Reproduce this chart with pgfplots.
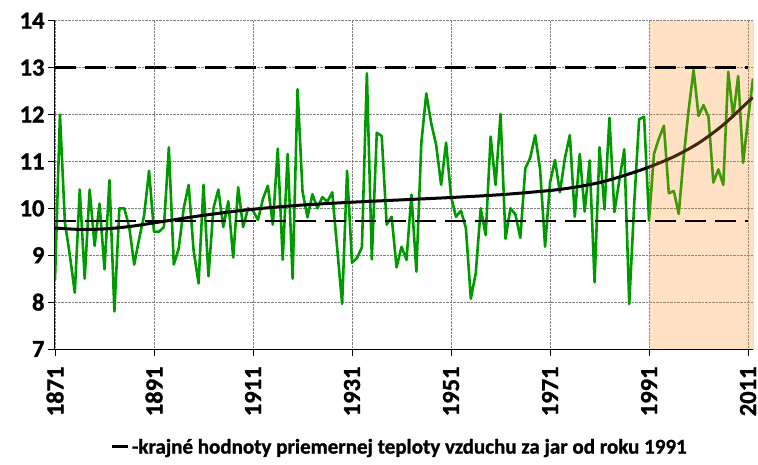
\documentclass[border=0pt]{standalone}
\usepackage{pgfplots}
\pgfplotsset{compat=1.18}
\usepackage{fontspec}
\setmainfont{Carlito}[BoldFont={Carlito Bold}, BoldFeatures={FakeBold=1.2}]
\definecolor{linegreen}{RGB}{0,153,0}
\definecolor{shadeorange}{RGB}{250,148,35}

\pgfplotstableread{
year temp
1871 8.47
1872 12.0
1873 9.7
1874 9.0
1875 8.2
1876 10.4
1877 8.5
1878 10.4
1879 9.2
1880 10.1
1881 8.7
1882 10.6
1883 7.8
1884 10.0
1885 10.0
1886 9.6
1887 8.8
1888 9.35
1889 9.85
1890 10.8
1891 9.5
1892 9.5
1893 9.6
1894 11.3
1895 8.8
1896 9.15
1897 10.0
1898 10.5
1899 9.1
1900 8.4
1901 10.5
1902 8.55
1903 10.0
1904 10.4
1905 9.6
1906 10.15
1907 8.95
1908 10.45
1909 9.6
1910 10.0
1911 9.95
1912 9.75
1913 10.2
1914 10.48
1915 9.65
1916 11.27
1917 8.9
1918 11.16
1919 8.5
1920 12.54
1921 10.36
1922 9.81
1923 10.3
1924 10.0
1925 10.24
1926 10.14
1927 10.34
1928 9.15
1929 7.96
1930 10.8
1931 8.84
1932 8.94
1933 9.17
1934 12.88
1935 8.91
1936 11.61
1937 11.54
1938 9.65
1939 9.82
1940 8.74
1941 9.18
1942 8.9
1943 10.29
1944 8.65
1945 11.39
1946 12.45
1947 11.81
1948 11.35
1949 10.5
1950 11.4
1951 10.25
1952 9.82
1953 9.95
1954 9.58
1955 8.07
1956 8.62
1957 10.0
1958 9.43
1959 11.53
1960 10.5
1961 12.01
1962 9.35
1963 10.0
1964 9.87
1965 9.37
1966 10.85
1967 11.08
1968 11.56
1969 10.82
1970 9.18
1971 10.55
1972 11.03
1973 10.34
1974 11.07
1975 11.56
1976 9.82
1977 11.16
1978 9.93
1979 11.02
1980 8.42
1981 11.3
1982 9.98
1983 11.93
1984 9.92
1985 10.6
1986 11.26
1987 7.96
1988 10.09
1989 11.9
1990 11.95
1991 9.74
1992 11.16
1993 11.49
1994 11.76
1995 10.32
1996 10.37
1997 9.88
1998 11.1
1999 12.1
2000 12.95
2001 11.97
2002 12.2
2003 11.95
2004 10.55
2005 10.83
2006 10.5
2007 12.91
2008 11.95
2009 12.82
2010 10.97
2011 11.9
2012 12.77
}\springtemp

% smoothed trend
\pgfplotstableread{
year trend
1871 9.58
1876 9.55
1881 9.56
1886 9.61
1891 9.69
1901 9.85
1911 9.98
1921 10.07
1931 10.13
1941 10.18
1951 10.23
1961 10.29
1971 10.38
1976 10.45
1981 10.55
1986 10.70
1991 10.88
1996 11.10
2001 11.39
2006 11.78
2011 12.27
2012 12.36
}\trendtab

\newcommand{\tl}{\bfseries\fontsize{24.5}{28}\selectfont}

\begin{document}
\begin{tikzpicture}
\useasboundingbox (-55pt,-115pt) rectangle (703pt,349pt);
\begin{axis}[
  at={(0,0)}, anchor=south west,
  scale only axis,
  width=698pt, height=328.3pt,
  xmin=1871, xmax=2012,
  ymin=7, ymax=14,
  xtick={1871,1891,1911,1931,1951,1971,1991,2011},
  xticklabels={{\tl 1871},{\tl 1891},{\tl 1911},{\tl 1931},{\tl 1951},{\tl 1971},{\tl 1991},{\tl 2011}},
  ytick={7,8,9,10,11,12,13,14},
  yticklabels={{\tl 7},{\tl 8},{\tl 9},{\tl 10},{\tl 11},{\tl 12},{\tl 13},{\tl 14}},
  axis x line*=bottom, axis y line*=left,
  axis line style={line width=1pt, -},
  tick align=outside,
  major tick length=7pt,
  tick style={black, line width=0.8pt},
  grid=major,
  grid style={gray, densely dotted, line width=0.7pt},
  yticklabel style={xshift=0pt},
  xticklabel style={yshift=-7pt, rotate=90, anchor=east},
  legend style={at={(axis description cs:0.494,-0.2985)}, anchor=center,
    draw=none, fill=none, font=\bfseries\fontsize{21}{24}\selectfont},
  legend cell align=left,
]
\addplot[linegreen, line width=2.6pt, line join=round, forget plot] table[x=year, y=temp] {\springtemp};
\addplot[black, line width=3pt, smooth, forget plot] table[x=year, y=trend] {\trendtab};
\addplot[draw=none, fill=shadeorange, fill opacity=0.27, forget plot]
  coordinates {(1991,7) (1991,14) (2012,14) (2012,7)} \closedcycle;
\addplot[black!85, line width=1pt, forget plot] coordinates {(2012,7) (2012,14)};
\addplot[black, line width=2.6pt, dash pattern=on 21pt off 9pt, forget plot]
  coordinates {(1871,9.73) (2011,9.73)};
\addplot[black, line width=2.6pt, dash pattern=on 21pt off 9pt,
  legend image code/.code={\draw[black, line width=3pt] (0pt,0pt) -- (16pt,0pt);}]
  coordinates {(1871,13) (2011,13)};
\addlegendentry{-krajné hodnoty priemernej teploty vzduchu za jar od roku 1991}
\end{axis}
\end{tikzpicture}
\end{document}
